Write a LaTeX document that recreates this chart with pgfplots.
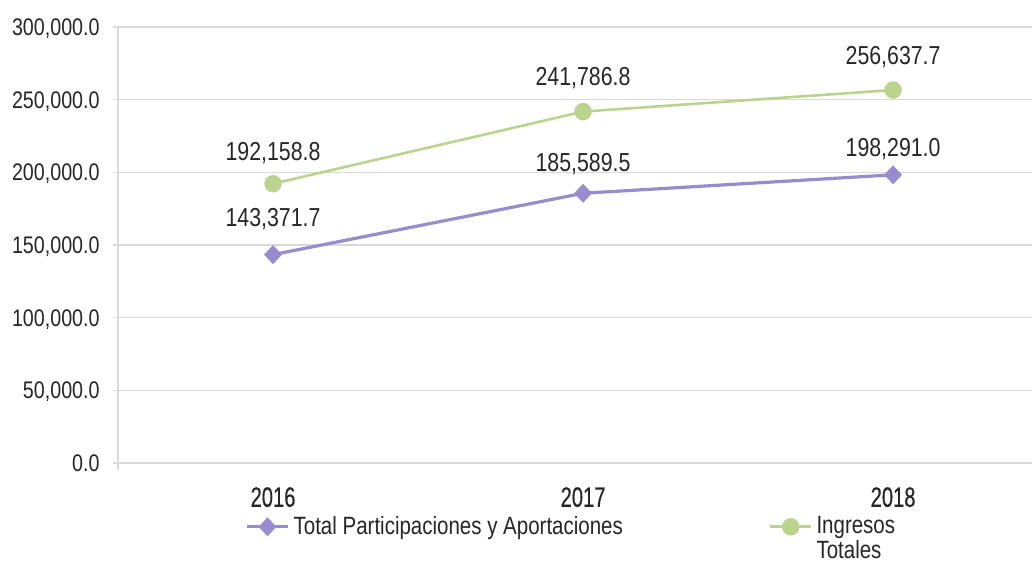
\documentclass[border=0pt]{standalone}
\usepackage{pgfplots}
\pgfplotsset{compat=1.18}
\usepackage{pgfplotstable}
\usepackage{fontspec}
\setmainfont{Liberation Sans}[FakeStretch=0.82]
\newfontfamily\yearfont{Liberation Sans}[FakeStretch=0.72,FakeBold=0.35]
\definecolor{cpurple}{RGB}{152,139,206}
\definecolor{cgreen}{RGB}{188,211,142}
\definecolor{ctext}{RGB}{38,38,38}
\definecolor{cgrid}{RGB}{217,217,217}

\pgfplotstableread{
x y off
0 143371.7 18.5
1 185589.5 15.5
2 198291.0 13.5
}\participaciones
\pgfplotstableread{
x y off
0 192158.8 16
1 241786.8 17.5
2 256637.7 17.5
}\ingresos

\begin{document}
\begin{tikzpicture}
\begin{axis}[
  scale only axis,
  width=457pt, height=218pt,
  xmin=-0.5, xmax=2.448,
  ymin=0, ymax=300000,
  clip=false,
  xtick={0,1,2},
  xticklabels={2016,2017,2018},
  ytick={0,50000,...,300000},
  scaled y ticks=false,
  axis lines*=left,
  x axis line style={draw=none},
  y axis line style={draw=cgrid, line width=0.8pt, shorten <=-3.5pt},
  ymajorgrids,
  grid style={draw=cgrid, line width=0.8pt},
  xtick style={draw=none},
  ytick style={draw=cgrid, line width=0.8pt},
  tick align=outside,
  major tick length=2.5pt,
  yticklabel style={font=\fontsize{12}{14}\selectfont, text=ctext, anchor=east, inner sep=0pt, text depth=0pt, xshift=-6.5pt,
    /pgf/number format/.cd, fixed, fixed zerofill, precision=1, 1000 sep={,}, assume math mode=true},
  xticklabel style={font=\yearfont\fontsize{14}{16}\selectfont, text=ctext, anchor=center, text depth=0pt, yshift=-14.5pt},
  nodes near coords={\pgfmathprintnumber[fixed,fixed zerofill,precision=1,1000 sep={,},assume math mode=true]{\pgfplotspointmeta}},
  legend columns=2,
  legend cell align=left,
  legend style={draw=none, fill=none, inner sep=0pt, font=\fontsize{12.5}{14}\selectfont, text=ctext,
    at={(axis description cs:0.139,-0.112)}, anchor=north west,
    /tikz/every even column/.append style={column sep=71pt}},
  legend image code/.code={\draw[mark repeat=2,mark phase=2,#1] plot coordinates {(0cm,0cm) (0.36cm,0cm) (0.72cm,0cm)};},
]
\addplot[color=cpurple, line width=1.6pt, mark=diamond*, mark size=3.6pt, mark options={xscale=1.25},
  visualization depends on={\thisrow{off}\as\off},
  nodes near coords style={font=\fontsize{13}{15}\selectfont, text=ctext, anchor=center, text depth=0pt, yshift=\off*1pt}]
  table[x=x, y=y] {\participaciones};
\addlegendentry{Total Participaciones y Aportaciones}
\addplot[color=cgreen, line width=1.3pt, mark=*, mark size=3.7pt,
  visualization depends on={\thisrow{off}\as\off},
  nodes near coords style={font=\fontsize{13}{15}\selectfont, text=ctext, anchor=center, text depth=0pt, yshift=\off*1pt}]
  table[x=x, y=y] {\ingresos};
\addlegendentry{\rlap{\raisebox{-12.5pt}[0pt][0pt]{Totales}}Ingresos}
\coordinate (A) at (rel axis cs:0,0);
\coordinate (B) at (rel axis cs:1,1);
\end{axis}
\pgfresetboundingbox
\path[use as bounding box] ([xshift=-59pt,yshift=-51pt]A) rectangle ([yshift=13.5pt]B);
\end{tikzpicture}
\end{document}
